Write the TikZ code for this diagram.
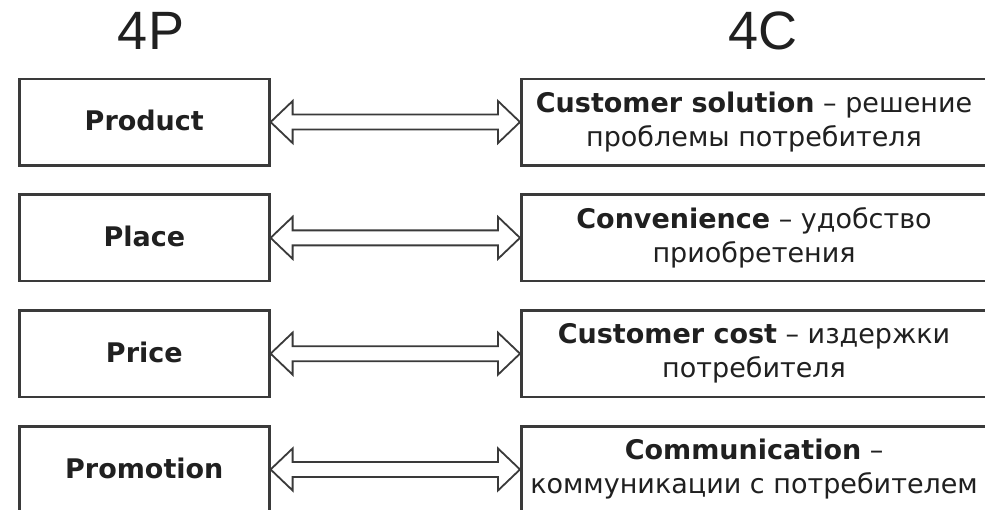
\documentclass[tikz,border=0pt]{standalone}
\usepackage{fontspec}
\setmainfont{DejaVu Sans}
\newfontfamily\titlefont{Liberation Sans}
\usetikzlibrary{calc}
\definecolor{edge}{HTML}{3A3A3A}
\definecolor{ink}{HTML}{202020}
\tikzset{
  pbox/.style={draw=edge, line width=2.6pt, fill=white, rectangle, anchor=north west,
    minimum width=250pt, minimum height=86.5pt, inner sep=0pt, text=ink,
    font=\fontsize{27}{31}\selectfont\bfseries},
  cbox/.style={draw=edge, line width=2.6pt, fill=white, rectangle, anchor=north west,
    minimum width=465.5pt, minimum height=86.5pt, inner sep=0pt, text=ink, align=center,
    font=\fontsize{27}{34}\selectfont},
  ttl/.style={font=\titlefont\fontsize{54}{60}\selectfont, text=ink, inner sep=0pt},
  darrow/.style={draw=edge, line width=1.8pt, fill=white, line join=miter},
}
\newcommand{\dblarrow}[2]{%
  \draw[darrow] (#1.east)
    -- ($(#1.east)+(22,-21)$) -- ($(#1.east)+(22,-7.5)$)
    -- ($(#2.west)+(-22,-7.5)$) -- ($(#2.west)+(-22,-21)$)
    -- (#2.west)
    -- ($(#2.west)+(-22,21)$) -- ($(#2.west)+(-22,7.5)$)
    -- ($(#1.east)+(22,7.5)$) -- ($(#1.east)+(22,21)$) -- cycle;}
\newcommand{\up}[1]{\raisebox{3pt}{#1}}
\begin{document}
\begin{tikzpicture}[x=1pt,y=-1pt]
\useasboundingbox[fill=white] (0,0) rectangle (985,509);
\node[ttl] (t4p) at (151,31) {4P};
\node[ttl] (t4c) at (763,31) {4C};
\node[pbox] (p1) at (18,77.5) {\up{Product}};
\node[pbox] (p2) at (18,193.3) {\up{Place}};
\node[pbox] (p3) at (18,309.1) {\up{Price}};
\node[pbox] (p4) at (18,424.9) {\up{Promotion}};
\node[cbox] (c1) at (520,77.5) {\textbf{Customer solution} – решение\\проблемы потребителя};
\node[cbox] (c2) at (520,193.3) {\textbf{Convenience} – удобство\\приобретения};
\node[cbox] (c3) at (520,309.1) {\textbf{Customer cost} – издержки\\потребителя};
\node[cbox] (c4) at (520,424.9) {\textbf{Communication} –\\коммуникации с потребителем};
\dblarrow{p1}{c1}
\dblarrow{p2}{c2}
\dblarrow{p3}{c3}
\dblarrow{p4}{c4}
\end{tikzpicture}
\end{document}
